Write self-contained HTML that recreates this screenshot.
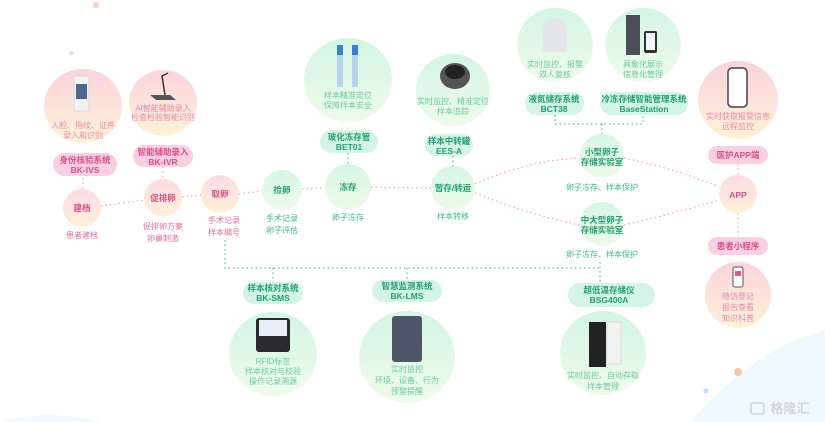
<!DOCTYPE html>
<html><head><meta charset="utf-8"><style>
html,body{margin:0;padding:0;background:#fff}
svg{display:block}
text{font-family:"Liberation Sans","Noto Sans CJK SC",sans-serif;text-anchor:middle}
.pk{fill:#e0709e;font-size:8px}
.gn{fill:#3bb98a;font-size:8px}
.pb{fill:#d9508a;font-size:8.5px;font-weight:bold}
.gb{fill:#22a072;font-size:8.5px;font-weight:bold}
.gl{fill:#6ccaa3;font-size:8px}
.pl{fill:#e889ae;font-size:8px}
.dp{stroke:#f0a3bd;stroke-width:1.2;stroke-dasharray:1.5 3;fill:none}
.dg{stroke:#5cc39b;stroke-width:1.3;stroke-dasharray:1.5 3;fill:none}
</style></head><body>
<svg width="825" height="422" viewBox="0 0 825 422" xmlns="http://www.w3.org/2000/svg">
<defs>
<linearGradient id="pbl" x1="0" y1="0" x2="0" y2="1"><stop offset="0" stop-color="#fbd3de"/><stop offset="1" stop-color="#fdf3d6"/></linearGradient>
<linearGradient id="gbl" x1="0" y1="0" x2="0" y2="1"><stop offset="0" stop-color="#d3f5e4"/><stop offset="1" stop-color="#effbea"/></linearGradient>
<linearGradient id="pc" x1="0" y1="0" x2="0" y2="1"><stop offset="0" stop-color="#fcdbe3"/><stop offset="1" stop-color="#fdf1d8"/></linearGradient>
<linearGradient id="gc" x1="0" y1="0" x2="0" y2="1"><stop offset="0" stop-color="#d6f6e5"/><stop offset="1" stop-color="#eefbe8"/></linearGradient>
</defs>
<path d="M690 422 Q760 345 825 330 L825 422 Z" fill="#eff8fc"/>
<path d="M0 422 Q50 408 100 422 Z" fill="#f2f9fc"/>
<circle cx="96" cy="5" r="3" fill="#f8cfc0"/>
<circle cx="71" cy="53" r="2" fill="#cfe4fb"/>
<circle cx="738" cy="372" r="4" fill="#f8c9a8"/>
<circle cx="706" cy="391" r="2.5" fill="#c8dcfb"/>

<path class="dp" d="M101 206 L144 200 M182 197 L201 195 M239 194 L262 191 M302 189 L325 188 M371 187 L431 188"/>
<path class="dp" d="M475 184 Q530 160 580 158 M475 193 Q530 215 580 225 M624 158 Q680 170 719 187 M624 225 Q680 212 719 200"/>
<path class="dp" d="M83 178 V189 M163 167 V179 M738 164 V175 M738 213 V236"/>
<path class="dg" d="M348 153 V164 M453 156 V166 M555 115 V124 H643 V115 M602 124 V134"/>
<path class="dg" d="M225 240 V268 H600 M600 262 V282 M273 268 V282 M407 268 V279"/>

<ellipse cx="83" cy="106" rx="39" ry="37" fill="url(#pbl)"/>
<rect x="74" y="76" width="15" height="35" rx="2" fill="#f2f2f4" stroke="#ccc" stroke-width=".6"/>
<rect x="76" y="84" width="11" height="15" fill="#4d6690"/>
<text class="pl" x="83" y="128">人脸、指纹、证件</text>
<text class="pl" x="83" y="138">录入和识别</text>
<ellipse cx="163" cy="103" rx="34" ry="33" fill="url(#pbl)"/>
<path d="M150 95 L170 95 L176 100 L156 100 Z" fill="#555"/>
<path d="M165 95 L162 76 L168 73" stroke="#333" stroke-width="1.5" fill="none"/>
<text class="pl" x="163" y="111">AI智能辅助录入</text>
<text class="pl" x="163" y="120">检查检验智能识别</text>
<rect x="53" y="153" width="64" height="23" rx="11.5" fill="#f8d0e2"/>
<text class="pb" x="85" y="163">身份核验系统</text><text class="pb" x="85" y="173">BK-IVS</text>
<rect x="133" y="145" width="60" height="22" rx="11" fill="#f8d0e2"/>
<text class="pb" x="163" y="155">智能辅助录入</text><text class="pb" x="163" y="165">BK-IVR</text>

<circle cx="82" cy="208" r="19" fill="url(#pc)"/><text class="pb" x="82" y="211">建档</text>
<text class="pk" x="82" y="238">患者建档</text>
<circle cx="163" cy="198" r="19" fill="url(#pc)"/><text class="pb" x="163" y="201">促排卵</text>
<text class="pk" x="163" y="229">促排卵方案</text><text class="pk" x="163" y="241">卵巢刺激</text>
<circle cx="220" cy="194" r="19" fill="url(#pc)"/><text class="pb" x="220" y="197">取卵</text>
<text class="pk" x="224" y="223">手术记录</text><text class="pk" x="224" y="235">样本编号</text>
<circle cx="282" cy="190" r="20" fill="url(#gc)"/><text class="gb" x="282" y="193">捡卵</text>
<text class="gn" x="282" y="221">手术记录</text><text class="gn" x="282" y="233">卵子评估</text>
<circle cx="348" cy="187" r="23" fill="url(#gc)"/><text class="gb" x="348" y="190">冻存</text>
<text class="gn" x="348" y="220">卵子冻存</text>
<circle cx="453" cy="188" r="22" fill="url(#gc)"/><text class="gb" x="453" y="191">暂存/转运</text>
<text class="gn" x="453" y="219">样本转移</text>

<ellipse cx="348" cy="80" rx="44" ry="42" fill="url(#gbl)"/>
<rect x="337" y="45" width="6" height="42" fill="#b8d4e8"/><rect x="337" y="45" width="6" height="10" fill="#3a7fd0"/>
<rect x="352" y="45" width="6" height="42" fill="#b8d4e8"/><rect x="352" y="45" width="6" height="10" fill="#3a7fd0"/>
<text class="gl" x="348" y="98">样本精准定位</text><text class="gl" x="348" y="108">保障样本安全</text>
<rect x="320" y="130" width="58" height="23" rx="11.5" fill="#d3f4e6"/>
<text class="gb" x="349" y="140">玻化冻存管</text><text class="gb" x="349" y="150">BET01</text>
<ellipse cx="453" cy="90" rx="37" ry="36" fill="url(#gbl)"/>
<ellipse cx="455" cy="76" rx="15" ry="13" fill="#555"/><ellipse cx="455" cy="72" rx="10" ry="7" fill="#222"/>
<text class="gl" x="453" y="104">实时监控、精准定位</text><text class="gl" x="453" y="114">样本追踪</text>
<rect x="425" y="134" width="48" height="22" rx="11" fill="#d3f4e6"/>
<text class="gb" x="449" y="144">样本中转罐</text><text class="gb" x="449" y="154">EES-A</text>

<ellipse cx="555" cy="45" rx="38" ry="37" fill="url(#gbl)"/>
<path d="M543 30 Q545 18 555 18 Q565 18 567 30 L567 52 L543 52 Z" fill="#e4e6ea"/>
<text class="gl" x="555" y="67">实时监控、报警</text><text class="gl" x="555" y="77">双人复核</text>
<rect x="525" y="92" width="59" height="23" rx="11.5" fill="#d3f4e6"/>
<text class="gb" x="554" y="102">液氮储存系统</text><text class="gb" x="554" y="112">BCT38</text>
<ellipse cx="643" cy="45" rx="38" ry="37" fill="url(#gbl)"/>
<rect x="626" y="15" width="14" height="40" fill="#4a4f57"/><rect x="644" y="31" width="13" height="22" rx="2" fill="#333"/><rect x="646" y="33" width="9" height="17" fill="#f2f5fb"/>
<text class="gl" x="643" y="67">具象化展示</text><text class="gl" x="643" y="77">信息化管理</text>
<rect x="600" y="92" width="88" height="23" rx="11.5" fill="#d3f4e6"/>
<text class="gb" x="644" y="102">冷冻存储智能管理系统</text><text class="gb" x="644" y="112">BaseStation</text>

<circle cx="602" cy="156" r="22" fill="url(#gc)"/><text class="gb" x="602" y="155">小型卵子</text><text class="gb" x="602" y="165">存储实验室</text>
<text class="gn" x="602" y="190">卵子冻存、样本保护</text>
<circle cx="602" cy="224" r="22" fill="url(#gc)"/><text class="gb" x="602" y="223">中大型卵子</text><text class="gb" x="602" y="233">存储实验室</text>
<text class="gn" x="602" y="257">卵子冻存、样本保护</text>

<ellipse cx="738" cy="100" rx="40" ry="39" fill="url(#pbl)"/>
<rect x="728" y="68" width="19" height="39" rx="4" fill="#fff" stroke="#444" stroke-width="1.5"/>
<text class="pl" x="738" y="119">实时获取报警信息</text><text class="pl" x="738" y="129">远程监控</text>
<rect x="708" y="146" width="60" height="18" rx="9" fill="#f8d0e2"/><text class="pb" x="738" y="158">医护APP端</text>
<circle cx="738" cy="194" r="19" fill="url(#pc)"/><text class="pb" x="738" y="198">APP</text>
<rect x="708" y="237" width="60" height="18" rx="9" fill="#f8d0e2"/><text class="pb" x="738" y="249">患者小程序</text>
<ellipse cx="738" cy="295" rx="33" ry="33" fill="url(#pbl)"/>
<rect x="733" y="267" width="10" height="20" rx="2" fill="#fff" stroke="#555"/><rect x="735" y="271" width="6" height="5" fill="#e05a8a"/>
<text class="pl" x="738" y="299">随访登记</text><text class="pl" x="738" y="310">报告查看</text><text class="pl" x="738" y="321">知识科普</text>

<rect x="243" y="282" width="60" height="22" rx="11" fill="#d3f4e6"/>
<text class="gb" x="273" y="291">样本核对系统</text><text class="gb" x="273" y="301">BK-SMS</text>
<ellipse cx="273" cy="354" rx="44" ry="42" fill="url(#gbl)"/>
<rect x="256" y="318" width="34" height="34" rx="3" fill="#2a2a2e"/><rect x="259" y="320" width="28" height="16" fill="#e8eef8"/>
<text class="gl" x="273" y="364">RFID标签</text><text class="gl" x="273" y="374">样本核对与校验</text><text class="gl" x="273" y="384">操作记录溯源</text>
<rect x="372" y="280" width="70" height="22" rx="11" fill="#d3f4e6"/>
<text class="gb" x="407" y="289">智慧监测系统</text><text class="gb" x="407" y="299">BK-LMS</text>
<ellipse cx="407" cy="357" rx="48" ry="46" fill="url(#gbl)"/>
<rect x="392" y="316" width="30" height="46" rx="3" fill="#4e5566"/>
<text class="gl" x="407" y="372">实时监控</text><text class="gl" x="407" y="383">环境、设备、行为</text><text class="gl" x="407" y="394">预警提醒</text>
<rect x="568" y="283" width="87" height="24" rx="12" fill="#d3f4e6"/>
<text class="gb" x="609" y="293">超低温存储仪</text><text class="gb" x="609" y="303">BSG400A</text>
<ellipse cx="603" cy="353" rx="43" ry="42" fill="url(#gbl)"/>
<rect x="589" y="322" width="17" height="45" fill="#222"/><rect x="607" y="322" width="14" height="42" fill="#f2f2f2" stroke="#ccc" stroke-width=".5"/>
<text class="gl" x="603" y="378">实时监控、自动存取</text><text class="gl" x="603" y="389">样本管理</text>

<rect x="751" y="403" width="13" height="11" rx="2" fill="none" stroke="#d0d6dc" stroke-width="1.6"/>
<text x="790" y="413" style="font-size:13px;fill:#d0d6dc;font-weight:bold">格隆汇</text>
</svg>
</body></html>
